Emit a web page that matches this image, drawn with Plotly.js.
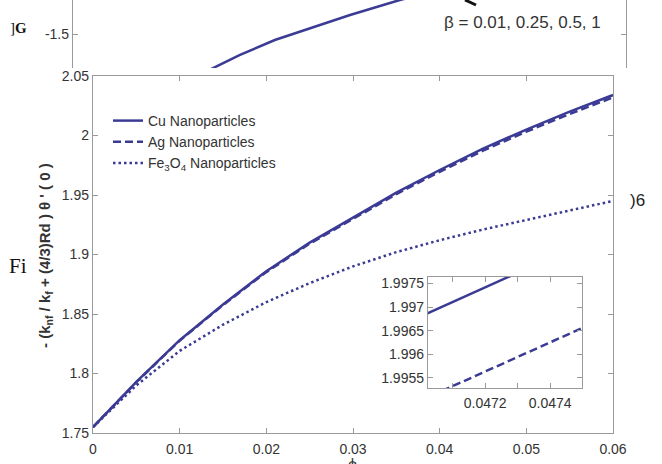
<!DOCTYPE html>
<html>
<head>
<meta charset="utf-8">
<script src="https://cdn.plot.ly/plotly-3.0.1.min.js"></script>
<style>html,body{margin:0;padding:0;background:#fff;}#chart{width:662px;height:464px;}</style>
</head>
<body>
<div id="chart"></div>
<script>
// main chart data (phi vs -(knf/kf + (4/3)Rd) theta'(0))
const phi = [0, 0.005, 0.01, 0.015, 0.02, 0.025, 0.03, 0.035, 0.04, 0.045, 0.05, 0.055, 0.06];
const cu  = [1.755, 1.793, 1.828, 1.858, 1.886, 1.910, 1.931, 1.952, 1.971, 1.989, 2.005, 2.020, 2.034];
const ag  = [1.755, 1.7927, 1.8276, 1.8575, 1.8852, 1.9091, 1.9299, 1.9507, 1.9695, 1.9873, 2.0032, 2.0181, 2.0320];
const fe  = [1.755, 1.790, 1.819, 1.841, 1.860, 1.876, 1.890, 1.902, 1.912, 1.921, 1.929, 1.937, 1.945];
const seriesNames = ['Cu Nanoparticles', 'Ag Nanoparticles', 'Fe<sub>3</sub>O<sub>4</sub> Nanoparticles'];
const xTicks = [0, 0.01, 0.02, 0.03, 0.04, 0.05, 0.06];
const xTickText = ['0', '0.01', '0.02', '0.03', '0.04', '0.05', '0.06'];
const yTicks = [1.75, 1.8, 1.85, 1.9, 1.95, 2, 2.05];
const yTickText = ['1.75', '1.8', '1.85', '1.9', '1.95', '2', '2.05'];

// inset (zoom) data
const insetPhi = [0.0470, 0.0475];
const insetCu  = [1.99680, 1.99835];
const insetAg  = [1.99501, 1.99656];
const insetTickVals = [0.0471, 0.0472, 0.0473, 0.0474, 0.0475];
const insetTickText = ['', '0.0472', '', '0.0474', ''];
const insetYTicks = [1.9955, 1.996, 1.9965, 1.997, 1.9975];
const insetYText = ['1.9955', '1.996', '1.9965', '1.997', '1.9975'];

// background fragment of another figure (top)
const topX = [0.239, 0.302, 0.365, 0.429, 0.501, 0.591, 0.627];
const topY = [-1.779, -1.654, -1.544, -1.456, -1.360, -1.250, -1.213];

const W = 662, H = 464;
const px = v => v / W;
const py = v => 1 - v / H;
const lineCol = '#3b3b95';
const axCol = '#9a9a9a';
const sans = 'Liberation Sans, Arial, sans-serif';
const tickFont = {family: sans, size: 14, color: '#333'};

const traces = [
  {x: phi, y: cu, name: seriesNames[0], type: 'scatter', mode: 'lines', line: {color: lineCol, width: 2.5}, xaxis: 'x', yaxis: 'y'},
  {x: phi, y: ag, name: seriesNames[1], type: 'scatter', mode: 'lines', line: {color: lineCol, width: 2.5, dash: '8px,4px'}, xaxis: 'x', yaxis: 'y'},
  {x: phi, y: fe, name: seriesNames[2], type: 'scatter', mode: 'lines', line: {color: lineCol, width: 2.5, dash: '2.5px,3px'}, xaxis: 'x', yaxis: 'y'},
  {x: insetPhi, y: insetCu, type: 'scatter', mode: 'lines', line: {color: lineCol, width: 2.5}, xaxis: 'x2', yaxis: 'y2', showlegend: false},
  {x: insetPhi, y: insetAg, type: 'scatter', mode: 'lines', line: {color: lineCol, width: 2.5, dash: '8px,4px'}, xaxis: 'x2', yaxis: 'y2', showlegend: false},
  {x: topX, y: topY, type: 'scatter', mode: 'lines', line: {color: lineCol, width: 2.5}, xaxis: 'x3', yaxis: 'y3', showlegend: false}
];

const commonAx = {
  showline: true, linecolor: axCol, linewidth: 1.2, mirror: 'ticks',
  ticks: 'inside', ticklen: 5, tickcolor: axCol, tickwidth: 1,
  showgrid: false, zeroline: false, tickfont: tickFont, fixedrange: true
};

const layout = {
  width: W, height: H,
  margin: {l: 0, r: 0, t: 0, b: 0},
  paper_bgcolor: '#fff', plot_bgcolor: 'rgba(0,0,0,0)',
  showlegend: true,
  legend: {x: px(108), y: py(105), xanchor: 'left', yanchor: 'top', bgcolor: 'rgba(0,0,0,0)',
           font: {family: sans, size: 14, color: '#333'}, tracegroupgap: 0},
  xaxis: Object.assign({}, commonAx, {domain: [px(93), px(613)], range: [0, 0.06], tickvals: xTicks, ticktext: xTickText, anchor: 'y', ticklabelstandoff: 3}),
  yaxis: Object.assign({}, commonAx, {domain: [py(433), py(76)], range: [1.75, 2.05], tickvals: yTicks, ticktext: yTickText, anchor: 'x'}),
  xaxis2: Object.assign({}, commonAx, {domain: [px(428), px(582)], range: [0.047024, 0.047498], tickvals: insetTickVals, ticktext: insetTickText, anchor: 'y2', ticklabelstandoff: 2}),
  yaxis2: Object.assign({}, commonAx, {domain: [py(388), py(277)], range: [1.99528, 1.99764], tickvals: insetYTicks, ticktext: insetYText, anchor: 'x2'}),
  xaxis3: {domain: [px(73), px(626)], range: [0, 1], visible: false, anchor: 'y3', fixedrange: true},
  yaxis3: Object.assign({}, commonAx, {domain: [py(68), 1], range: [-1.75, -1.25], tickvals: [-1.5], ticktext: ['-1.5'], anchor: 'x3'}),
  shapes: [
    {type: 'rect', xref: 'paper', yref: 'paper', x0: px(428), x1: px(582), y0: py(388), y1: py(277), fillcolor: '#fff', line: {width: 0}, layer: 'below'},
    {type: 'line', xref: 'paper', yref: 'paper', x0: px(465), y0: py(0), x1: px(476), y1: py(5), line: {color: '#111', width: 3}}
  ],
  annotations: [
    {text: '- (k<sub>nf</sub> / k<sub>f</sub> + (4/3)Rd ) θ \' ( 0 )', textangle: -90, xref: 'paper', yref: 'paper', x: px(45), y: py(256), xanchor: 'center', yanchor: 'middle', showarrow: false,
     font: {family: sans, size: 15, color: '#333', weight: 'bold'}},
    {text: 'ϕ', xref: 'paper', yref: 'paper', x: px(353), y: py(454), xanchor: 'center', yanchor: 'top', showarrow: false,
     font: {family: sans, size: 16, color: '#333'}},
    {text: 'β = 0.01, 0.25, 0.5, 1', xref: 'paper', yref: 'paper', x: px(522), y: py(22), xanchor: 'center', yanchor: 'middle', showarrow: false,
     font: {family: sans, size: 17, color: '#333'}},
    {text: 'Fi', xref: 'paper', yref: 'paper', x: px(7), y: py(266), xanchor: 'left', yanchor: 'middle', showarrow: false,
     font: {family: 'Liberation Serif, Times New Roman, serif', size: 21, color: '#111'}},
    {text: ')6', xref: 'paper', yref: 'paper', x: px(628), y: py(200), xanchor: 'left', yanchor: 'middle', showarrow: false,
     font: {family: sans, size: 17, color: '#222'}},
    {text: ']<b>G</b>', xref: 'paper', yref: 'paper', x: px(8), y: py(28), xanchor: 'left', yanchor: 'middle', showarrow: false,
     font: {family: 'Liberation Serif, serif', size: 15, color: '#111'}}
  ]
};

Plotly.newPlot('chart', traces, layout, {staticPlot: true, displayModeBar: false});
</script>
</body>
</html>
